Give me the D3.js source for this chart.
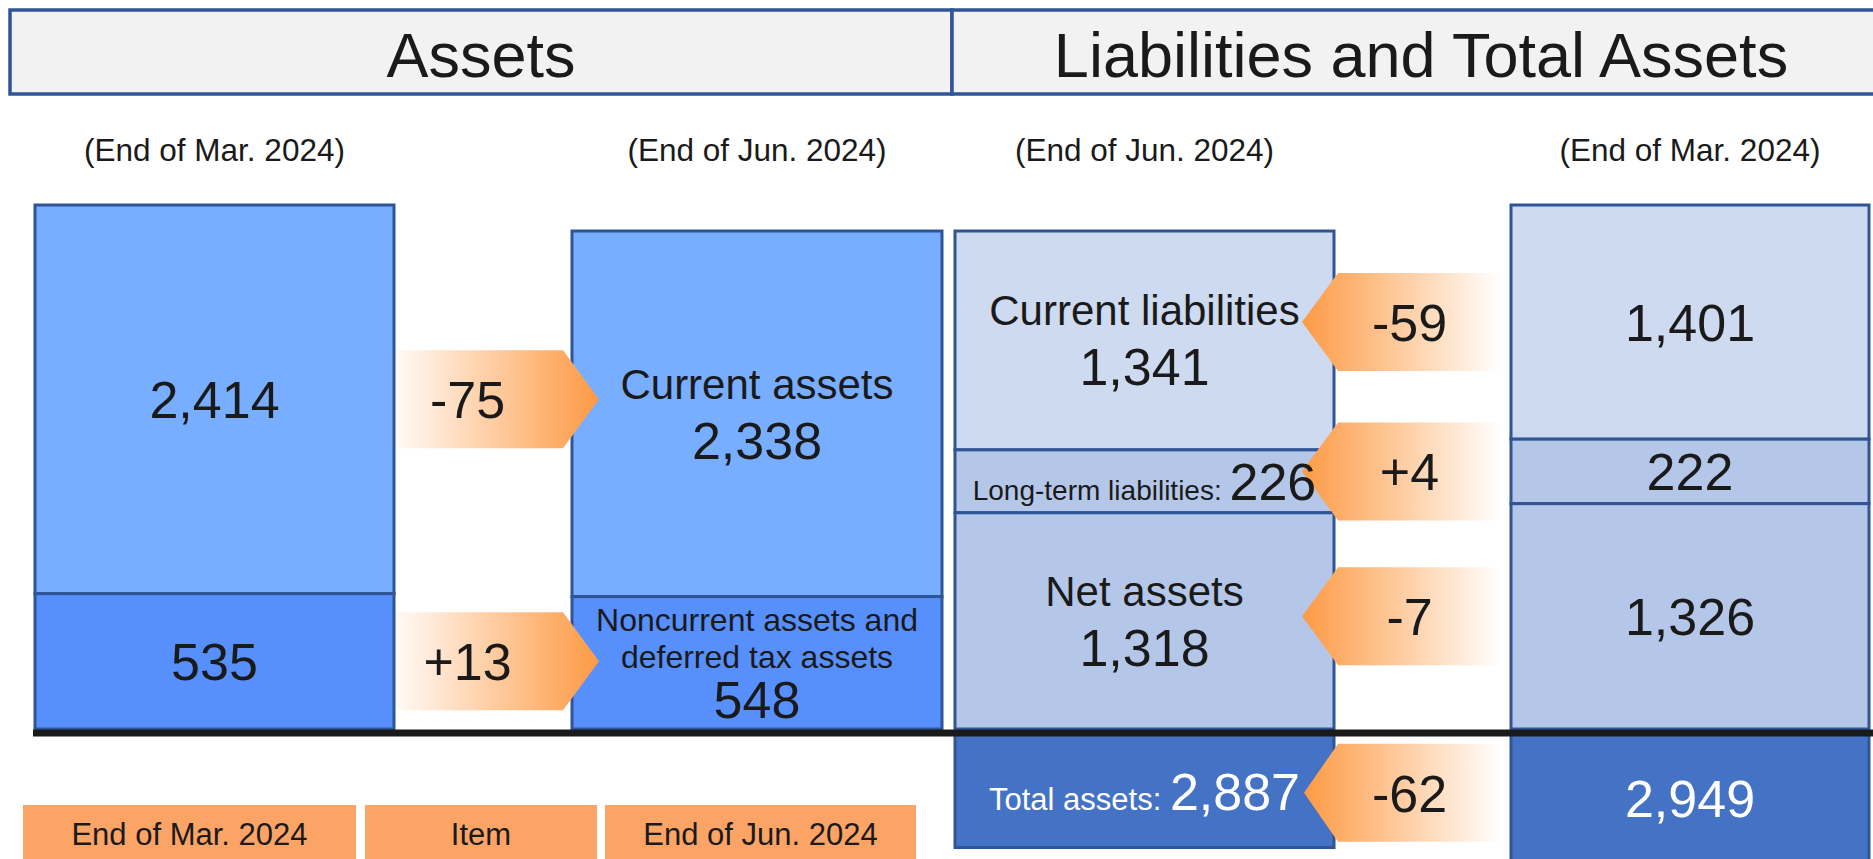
<!DOCTYPE html>
<html><head><meta charset="utf-8">
<script src="https://cdn.jsdelivr.net/npm/d3@7"></script>
<style>
html,body{margin:0;padding:0;background:#fff;overflow:hidden}
svg{display:block}
text{font-family:"Liberation Sans",Arial,Helvetica,sans-serif;fill:#1a1a1a}
</style>
</head><body><svg id="chart" width="1873" height="859"></svg>
<script>
// ---------------- data ----------------
const headerLabels = ["Assets", "Liabilities and Total Assets"];
const periods = ["End of Mar. 2024", "End of Jun. 2024"];
const assetItems = ["Current assets", "Noncurrent assets and deferred tax assets"];
const assetLabelLines = [["Current assets"], ["Noncurrent assets and", "deferred tax assets"]];
const assetsMar = [2414, 535];
const assetsJun = [2338, 548];
const assetChanges = [-75, 13];
const liabItems = ["Current liabilities", "Long-term liabilities", "Net assets"];
const liabJun = [1341, 226, 1318];
const liabMar = [1401, 222, 1326];
const liabChanges = [-59, 4, -7];
const totalLabel = "Total assets";
const totals = [2949, 2887];          // End of Mar., End of Jun.
const totalChange = -62;
const legendLabels = ["End of Mar. 2024", "Item", "End of Jun. 2024"];

// ---------------- styles / layout ----------------
const W = 1873, H = 859;
const BORDER = "#2f5597";
const assetColors = ["#78aeff", "#578ffc"];
const liabColors = ["#cddaf0", "#b4c7e8", "#b4c7e8"];
const totalColor = "#4472c4";
const legendColor = "#fca466";
const base = 729;

const cols = ["aMar", "aJun", "lJun", "lMar"];
const xLeft = d3.scaleOrdinal().domain(cols).range([35, 572, 955, 1511]);
const xWidth = d3.scaleOrdinal().domain(cols).range([359, 370, 379, 358]);
const cx = c => xLeft(c) + xWidth(c) / 2;
const right = c => xLeft(c) + xWidth(c);

// column height from total, segment share from a power scale
const hTotal = d3.scaleLinear().domain([1700, totals[0]]).range([0, 524]);
const segPow = d3.scalePow().exponent(0.7).domain([0, 3000]).range([0, 1]);
const boxH = d3.scaleLinear().domain([2400, totals[0]]).range([0, 128]);

const fmt = d3.format(",");
const fmtChg = v => (v > 0 ? "+" : "") + v;

function stack(values, total) {
  const Ht = hTotal(total);
  const w = values.map(v => segPow(v));
  const s = d3.sum(w);
  let y = base - Ht;
  return values.map((v, i) => {
    const h = w[i] / s * Ht;
    const seg = { v, i, y0: y, h, mid: y + h / 2 };
    y += h;
    return seg;
  });
}

const svg = d3.select("#chart");
const defs = svg.append("defs");
const gR = defs.append("linearGradient").attr("id", "gradR").attr("x1", 0).attr("x2", 1).attr("y1", 0).attr("y2", 0);
gR.append("stop").attr("offset", "0%").attr("stop-color", "#fffaf7");
gR.append("stop").attr("offset", "100%").attr("stop-color", "#fd9a44");
const gL = defs.append("linearGradient").attr("id", "gradL").attr("x1", 1).attr("x2", 0).attr("y1", 0).attr("y2", 0);
gL.append("stop").attr("offset", "0%").attr("stop-color", "#ffffff");
gL.append("stop").attr("offset", "100%").attr("stop-color", "#fd9a44");

// ---------------- header ----------------
const headerBoxes = [{ x: 10, w: 942 }, { x: 952, w: 938 }];
svg.selectAll("rect.hdr").data(headerLabels).join("rect").attr("class", "hdr")
  .attr("x", (d, i) => headerBoxes[i].x).attr("y", 10)
  .attr("width", (d, i) => headerBoxes[i].w).attr("height", 84)
  .attr("fill", "#f2f2f2").attr("stroke", BORDER).attr("stroke-width", 3.5);
svg.selectAll("text.hdr").data(headerLabels).join("text").attr("class", "hdr")
  .attr("x", (d, i) => headerBoxes[i].x + headerBoxes[i].w / 2).attr("y", 77)
  .attr("text-anchor", "middle").attr("font-size", 63).text(d => d);

// sub titles
const subCols = [["aMar", 0], ["aJun", 1], ["lJun", 1], ["lMar", 0]];
svg.selectAll("text.sub").data(subCols).join("text").attr("class", "sub")
  .attr("x", d => cx(d[0])).attr("y", 161).attr("text-anchor", "middle")
  .attr("font-size", 31.5).text(d => "(" + periods[d[1]] + ")");

// ---------------- stacks ----------------
const stacks = {
  aMar: stack(assetsMar, totals[0]),
  aJun: stack(assetsJun, totals[1]),
  lJun: stack(liabJun, totals[1]),
  lMar: stack(liabMar, totals[0])
};
const colColors = { aMar: assetColors, aJun: assetColors, lJun: liabColors, lMar: liabColors };

cols.forEach(c => {
  svg.append("g").selectAll("rect").data(stacks[c]).join("rect")
    .attr("x", xLeft(c)).attr("y", d => d.y0)
    .attr("width", xWidth(c)).attr("height", d => d.h)
    .attr("fill", d => colColors[c][d.i]).attr("stroke", BORDER).attr("stroke-width", 3);
});

// total boxes
const totalBoxes = [{ c: "lMar", v: totals[0] }, { c: "lJun", v: totals[1] }];
svg.append("g").selectAll("rect").data(totalBoxes).join("rect")
  .attr("x", d => xLeft(d.c)).attr("y", 734)
  .attr("width", d => xWidth(d.c)).attr("height", d => boxH(d.v))
  .attr("fill", totalColor).attr("stroke", BORDER).attr("stroke-width", 3);

// ---------------- arrows ----------------
const AH = 98;
function arrowPath(outer, body, tip, cy) {
  return `M${outer},${cy - AH / 2}H${body}L${tip},${cy}L${body},${cy + AH / 2}H${outer}Z`;
}
const arrows = [];
assetChanges.forEach((v, i) => arrows.push({
  v, dir: "R", cy: stacks.aMar[i].mid,
  outer: right("aMar") + 2, body: xLeft("aJun") - 9, tip: xLeft("aJun") + 27
}));
liabChanges.forEach((v, i) => arrows.push({
  v, dir: "L", cy: stacks.lMar[i].mid,
  outer: xLeft("lMar") - 10, body: right("lJun") + 4, tip: right("lJun") - 32
}));
arrows.push({
  v: totalChange, dir: "L", cy: 734 + boxH(totals[1]) / 2 + 2,
  outer: xLeft("lMar") - 10, body: right("lJun") + 4, tip: right("lJun") - 30
});
const ag = svg.append("g");
ag.selectAll("path").data(arrows).join("path")
  .attr("d", d => arrowPath(d.outer, d.body, d.tip, d.cy))
  .attr("fill", d => d.dir === "R" ? "url(#gradR)" : "url(#gradL)");
ag.selectAll("text").data(arrows).join("text")
  .attr("x", d => (d.outer + d.body) / 2 + (d.dir === "R" ? -12 : -10))
  .attr("y", d => d.cy + 19).attr("text-anchor", "middle")
  .attr("font-size", 52).text(d => fmtChg(d.v));

// ---------------- labels ----------------
const tg = svg.append("g");
function valueText(x, y, v, color) {
  tg.append("text").attr("x", x).attr("y", y).attr("text-anchor", "middle")
    .attr("font-size", 52).style("fill", color || "#1a1a1a").text(fmt(v));
}
function block(x, mid, lines, fl, v) {
  const lg = fl * 1.16, vGap = fl + 18, cap = fl * 0.716;
  const bh = cap + (lines.length - 1) * lg + vGap;
  const b = mid - bh / 2 + cap;
  lines.forEach((t, k) => tg.append("text").attr("x", x).attr("y", b + k * lg)
    .attr("text-anchor", "middle").attr("font-size", fl).text(t));
  valueText(x, b + (lines.length - 1) * lg + vGap, v);
}
function inline(x, y, label, fl, v, color) {
  const t = tg.append("text").attr("x", x).attr("y", y).attr("text-anchor", "middle")
    .style("fill", color || "#1a1a1a");
  t.append("tspan").attr("font-size", fl).style("fill", color || "#1a1a1a").text(label + ": ");
  t.append("tspan").attr("font-size", 52).style("fill", color || "#1a1a1a").text(fmt(v));
}

// Mar assets: values only
stacks.aMar.forEach(s => valueText(cx("aMar"), s.mid + 19, s.v));
// Jun assets: labels + values
const assetLabelSize = [42, 32];
stacks.aJun.forEach(s => block(cx("aJun"), s.mid, assetLabelLines[s.i], assetLabelSize[s.i], s.v));
// Jun liabilities
const liabMode = ["block", "inline", "block"];
stacks.lJun.forEach(s => {
  if (liabMode[s.i] === "inline") inline(cx("lJun"), s.mid + 19, liabItems[s.i], 28, s.v);
  else block(cx("lJun"), s.mid, [liabItems[s.i]], 42, s.v);
});
// Mar liabilities: values only
stacks.lMar.forEach(s => valueText(cx("lMar"), s.mid + 19, s.v));
// totals
inline(cx("lJun"), 734 + boxH(totals[1]) / 2 + 19, totalLabel, 31, totals[1], "#ffffff");
valueText(cx("lMar"), 734 + boxH(totals[0]) / 2 + 19, totals[0], "#ffffff");

// base line
svg.append("line").attr("x1", xLeft("aMar") - 2).attr("x2", W)
  .attr("y1", 733).attr("y2", 733).attr("stroke", "#1a1a1a").attr("stroke-width", 7);

// ---------------- legend ----------------
const legendBoxes = [{ x: 23, w: 333 }, { x: 365, w: 232 }, { x: 605, w: 311 }];
const lg = svg.append("g");
lg.selectAll("rect").data(legendLabels).join("rect")
  .attr("x", (d, i) => legendBoxes[i].x).attr("y", 805)
  .attr("width", (d, i) => legendBoxes[i].w).attr("height", 60).attr("fill", legendColor);
lg.selectAll("text").data(legendLabels).join("text")
  .attr("x", (d, i) => legendBoxes[i].x + legendBoxes[i].w / 2).attr("y", 845)
  .attr("text-anchor", "middle").attr("font-size", 31).text(d => d);
</script>
</body></html>
